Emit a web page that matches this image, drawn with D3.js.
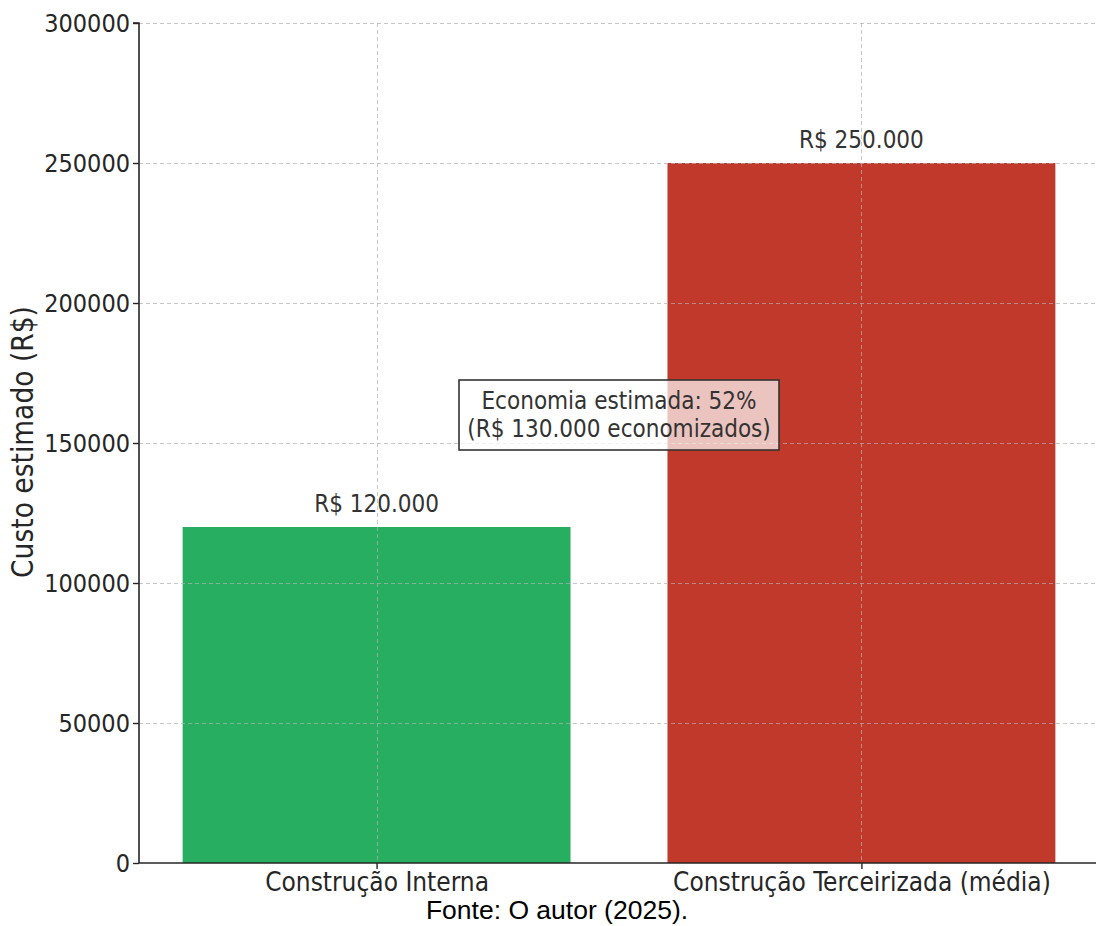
<!DOCTYPE html>
<html>
<head>
<meta charset="utf-8">
<script src="https://cdn.jsdelivr.net/npm/d3@7"></script>
<style>
  body { margin: 0; background: #fff; }
  svg { display: block; }
  .tick text { font-family: 'DejaVu Sans Condensed', 'DejaVu Sans', sans-serif; fill: #262626; }
</style>
</head>
<body>
<svg id="chart"></svg>
<script>
const categories = ['Construção Interna', 'Construção Terceirizada (média)'];
const values = [120000, 250000];
const colors = ['#27ae60', '#c0392b'];
const barLabels = ['R$ 120.000', 'R$ 250.000'];
const yTicks = [0, 50000, 100000, 150000, 200000, 250000, 300000];
const noteLines = ['Economia estimada: 52%', '(R$ 130.000 economizados)'];
const noteAt = {x: 0.5, y: 160000};

const fullWidth = 1096;
const fullHeight = 926;
const font = 'DejaVu Sans Condensed, DejaVu Sans, sans-serif';

const svg = d3.select('#chart')
    .attr('width', fullWidth)
    .attr('height', fullHeight);

// matplotlib-like limits: bar width 0.8, 5% margins
const x = d3.scaleLinear().domain([-0.49, 1.49]).range([139, 1099]);
const y = d3.scaleLinear().domain([0, 300000]).range([863, 23]);
const barWidth = 0.8;

const bars = svg.append('g').attr('class', 'bars');
bars.selectAll('rect').data(values)
  .enter().append('rect')
    .attr('x', (d, i) => x(i - barWidth / 2))
    .attr('width', x(barWidth) - x(0))
    .attr('y', d => y(d))
    .attr('height', d => y(0) - y(d))
    .attr('fill', (d, i) => colors[i]);

// grid drawn over bars, as in the original
const gridTop = svg.append('g').attr('class', 'grid-top')
    .attr('stroke', '#b0b0b0')
    .attr('stroke-opacity', 0.7)
    .attr('stroke-dasharray', '4,3')
    .attr('stroke-width', 1);

gridTop.selectAll('.hgrid').data(yTicks.slice(1))
  .enter().append('line')
    .attr('x1', x(-0.49)).attr('x2', fullWidth)
    .attr('y1', d => y(d) + 0.5).attr('y2', d => y(d) + 0.5);

gridTop.selectAll('.vgrid').data(categories)
  .enter().append('line')
    .attr('x1', (d, i) => Math.round(x(i)) + 0.5).attr('x2', (d, i) => Math.round(x(i)) + 0.5)
    .attr('y1', y(300000)).attr('y2', y(0));

const yAxis = svg.append('g')
    .attr('transform', `translate(${x(-0.49)},0)`)
    .call(d3.axisLeft(y).tickValues(yTicks).tickFormat(d3.format('d')).tickSize(6).tickPadding(3));
yAxis.select('.domain').attr('stroke', '#262626').attr('stroke-width', 1.6).attr('d', `M-6,${y(300000)}H0V${y(0)}`);
yAxis.selectAll('.tick line').attr('stroke', '#262626').attr('stroke-width', 1.4);
yAxis.selectAll('.tick text').attr('font-size', 25);

const xAxis = svg.append('g')
    .attr('transform', `translate(0,${y(0)})`)
    .call(d3.axisBottom(x).tickValues([0, 1]).tickFormat(i => categories[i]).tickSize(6).tickPadding(4));
xAxis.select('.domain').attr('stroke', '#262626').attr('stroke-width', 1.6).attr('d', `M${x(-0.49)},0H${fullWidth}`);
xAxis.selectAll('.tick line').attr('stroke', '#262626').attr('stroke-width', 1.4);
xAxis.selectAll('.tick text').attr('font-size', 26);

svg.append('text')
    .attr('transform', `translate(33,${y(150000) - 1}) rotate(-90)`)
    .attr('text-anchor', 'middle')
    .attr('font-family', font)
    .attr('font-size', 29.5)
    .attr('fill', '#262626')
    .text('Custo estimado (R$)');

svg.append('g').selectAll('text').data(values)
  .enter().append('text')
    .attr('x', (d, i) => x(i))
    .attr('y', d => y(d) - 15)
    .attr('text-anchor', 'middle')
    .attr('font-family', font)
    .attr('font-size', 24)
    .attr('fill', '#333')
    .text((d, i) => barLabels[i]);

// annotation box
const note = svg.append('g')
    .attr('transform', `translate(${x(noteAt.x)},${y(noteAt.y)})`);
note.append('rect')
    .attr('x', -160).attr('y', -35)
    .attr('width', 320).attr('height', 70)
    .attr('fill', '#fff').attr('fill-opacity', 0.7)
    .attr('stroke', '#333').attr('stroke-width', 1.6);
note.selectAll('text').data(noteLines)
  .enter().append('text')
    .attr('x', 0)
    .attr('y', (d, i) => -6 + i * 28)
    .attr('text-anchor', 'middle')
    .attr('font-family', font)
    .attr('font-size', 24)
    .attr('fill', '#333')
    .text(d => d);

svg.append('text')
    .attr('x', 557)
    .attr('y', 919)
    .attr('text-anchor', 'middle')
    .attr('font-family', 'Liberation Sans, Arial, sans-serif')
    .attr('font-size', 26.5)
    .attr('fill', '#000')
    .text('Fonte: O autor (2025).');
</script>
</body>
</html>
